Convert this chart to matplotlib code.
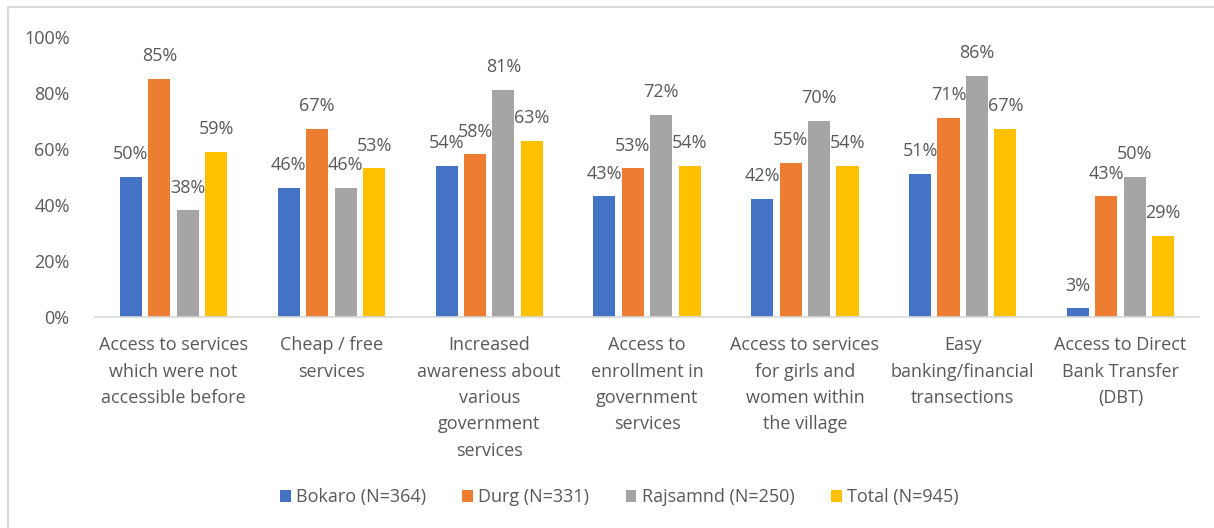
import matplotlib.pyplot as plt
import numpy as np
from matplotlib.patches import Rectangle

plt.rcParams['font.family'] = ['Open Sans', 'DejaVu Sans']

# Benefits reported by respondents, share per district
categories = [
    'Access to services\nwhich were not\naccessible before',
    'Cheap / free\nservices',
    'Increased\nawareness about\nvarious\ngovernment\nservices',
    'Access to\nenrollment in\ngovernment\nservices',
    'Access to services\nfor girls and\nwomen within\nthe village',
    'Easy\nbanking/financial\ntransections',
    'Access to Direct\nBank Transfer\n(DBT)',
]
series_names = ['Bokaro (N=364)', 'Durg (N=331)', 'Rajsamnd (N=250)', 'Total (N=945)']
bokaro = [50, 46, 54, 43, 42, 51, 3]
durg = [85, 67, 58, 53, 55, 71, 43]
rajsamnd = [38, 46, 81, 72, 70, 86, 50]
total = [59, 53, 63, 54, 54, 67, 29]
colors = ['#4472C4', '#ED7D31', '#A5A5A5', '#FFC000']
text_color = '#595959'

fig = plt.figure(figsize=(12.14, 5.28), dpi=100)
ax = fig.add_axes([0.078, 0.40, 0.91, 0.53])

# chart area outline
fig.patches.append(Rectangle((0.007, -0.01), 1.0, 0.997, transform=fig.transFigure,
                             fill=False, edgecolor='#D9D9D9', linewidth=1.5))

x = np.arange(len(categories))
width = 0.14
step = 0.18
for i, (vals, name, c) in enumerate(zip([bokaro, durg, rajsamnd, total], series_names, colors)):
    pos = x + (i - 1.5) * step
    bars = ax.bar(pos, vals, width=width, color=c, label=name)
    for b, v in zip(bars, vals):
        ax.annotate(f'{v}%', (b.get_x() + b.get_width() / 2, v), xytext=(0, 10),
                    textcoords='offset points', ha='center', va='bottom',
                    fontsize=13, color=text_color)

ax.set_ylim(0, 100)
ax.set_xlim(-0.5, len(categories) - 0.5)
ax.set_yticks(range(0, 101, 20))
ax.set_yticklabels([f'{t}%' for t in range(0, 101, 20)])
ax.set_xticks(x)
ax.set_xticklabels(categories, linespacing=1.6)
ax.tick_params(axis='both', length=0, labelsize=13, colors=text_color)
ax.tick_params(axis='y', pad=18)
ax.tick_params(axis='x', pad=14)
for side in ['top', 'right', 'left']:
    ax.spines[side].set_visible(False)
ax.spines['bottom'].set_color('#D9D9D9')
ax.spines['bottom'].set_linewidth(1.2)

leg = fig.legend(loc='center', bbox_to_anchor=(0.51, 0.058), ncol=4, frameon=False,
                 fontsize=13, handlelength=0.6, handleheight=0.6, handletextpad=0.3,
                 columnspacing=2.0)
for t in leg.get_texts():
    t.set_color(text_color)

fig.savefig('out.png', dpi=100)
